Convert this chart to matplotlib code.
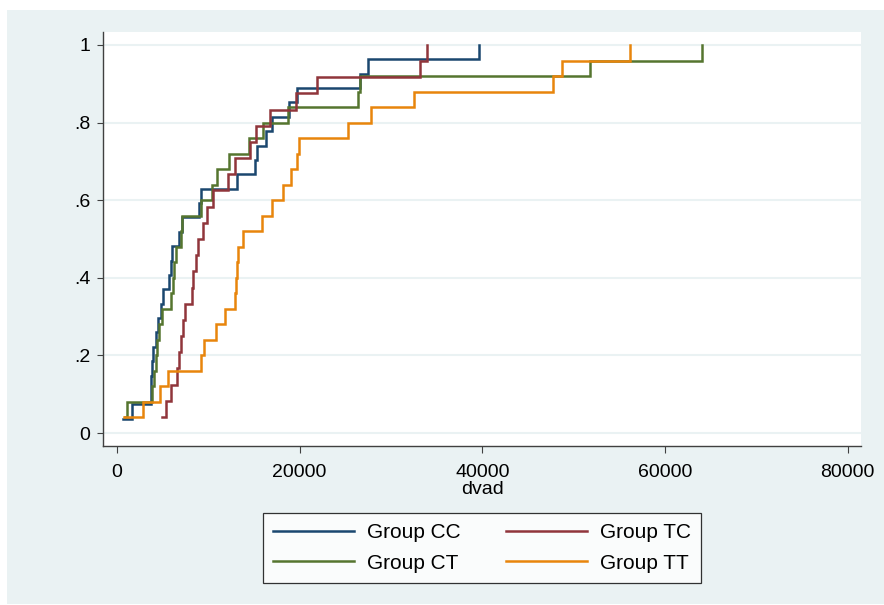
import numpy as np
import matplotlib
matplotlib.use("Agg")
import matplotlib.pyplot as plt
from matplotlib.patches import Rectangle

plt.rcParams['font.family'] = ['Liberation Sans', 'DejaVu Sans']

# sorted dvad values per group
cc = [690, 1680, 3690, 3770, 3870, 3980, 4240, 4490, 4780, 5040, 5700, 5880, 6060,
      6840, 7090, 9030, 9160, 13180, 15120, 15380, 16360, 16950, 18850, 19760,
      26600, 27440, 39680]
tc = [4890, 5400, 5890, 6610, 6800, 7010, 7230, 7450, 8250, 8360, 8600, 8910, 9460,
      9860, 10520, 12200, 12900, 14540, 15270, 16730, 19650, 21850, 33170, 33900]
ct = [900, 1060, 3870, 4060, 4240, 4420, 4600, 4970, 5940, 6170, 6250, 6430, 6970,
      7160, 9170, 10380, 11000, 12280, 14470, 16000, 18780, 26410, 26630, 51800, 64080]
tt = [770, 2850, 4680, 5620, 9240, 9530, 10810, 11840, 12900, 13000, 13100, 13200,
      13800, 15930, 16950, 18190, 19030, 19760, 19950, 25350, 27870, 32520, 47790,
      48730, 56190]

groups = ['Group CC', 'Group CT', 'Group TC', 'Group TT']
series = [cc, ct, tc, tt]
colors = ['#1a476f', '#55752f', '#90353b', '#e8850c']

xticks = [0, 20000, 40000, 60000, 80000]
yticks = [0, 0.2, 0.4, 0.6, 0.8, 1]
ylabels = ['0', '.2', '.4', '.6', '.8', '1']

bg = '#eaf2f3'

fig = plt.figure(figsize=(8.84, 6.05), dpi=100, facecolor='white')
fig.patches.append(Rectangle((7 / 884, 1 / 605), 1, 594 / 605, transform=fig.transFigure,
                             facecolor=bg, edgecolor='none', zorder=-10))

ax = fig.add_axes([103 / 884, 1 - 446 / 605, 758 / 884, 414 / 605])
ax.set_facecolor('white')

handles = []
for name, vals, c in zip(groups, series, colors):
    x = np.sort(np.array(vals, dtype=float))
    y = np.arange(1, len(x) + 1) / len(x)
    h, = ax.step(x, y, where='post', color=c, lw=1.8, label=name, solid_joinstyle='miter')
    handles.append(h)

ax.set_xlim(-1530, 81470)
ax.set_ylim(-0.0335, 1.0335)
ax.set_xticks(xticks)
ax.set_xticklabels([str(t) for t in xticks])
ax.set_yticks(yticks)
ax.set_yticklabels(ylabels)
ax.yaxis.grid(True, color=bg, lw=1.5)
ax.set_axisbelow(True)

for s in ['top', 'right']:
    ax.spines[s].set_visible(False)
for s in ['left', 'bottom']:
    ax.spines[s].set_color('#404040')
    ax.spines[s].set_linewidth(1.0)

ax.tick_params(axis='x', length=5, width=0.8, color='#404040', pad=8, labelsize=14)
ax.tick_params(axis='y', length=4, width=0.8, color='#404040', pad=5, labelsize=14)
ax.set_xlabel('dvad', fontsize=14, labelpad=0)

leg = fig.legend(handles, groups, loc='center', bbox_to_anchor=(482 / 884, 1 - 548 / 605),
                 ncol=2, fontsize=15, handlelength=3.9, columnspacing=2.2,
                 handletextpad=0.6, borderpad=0.5, labelspacing=0.55, fancybox=False)
leg.get_frame().set_edgecolor('black')
leg.get_frame().set_linewidth(0.9)

fig.savefig('out.png', dpi=100, facecolor='white')
